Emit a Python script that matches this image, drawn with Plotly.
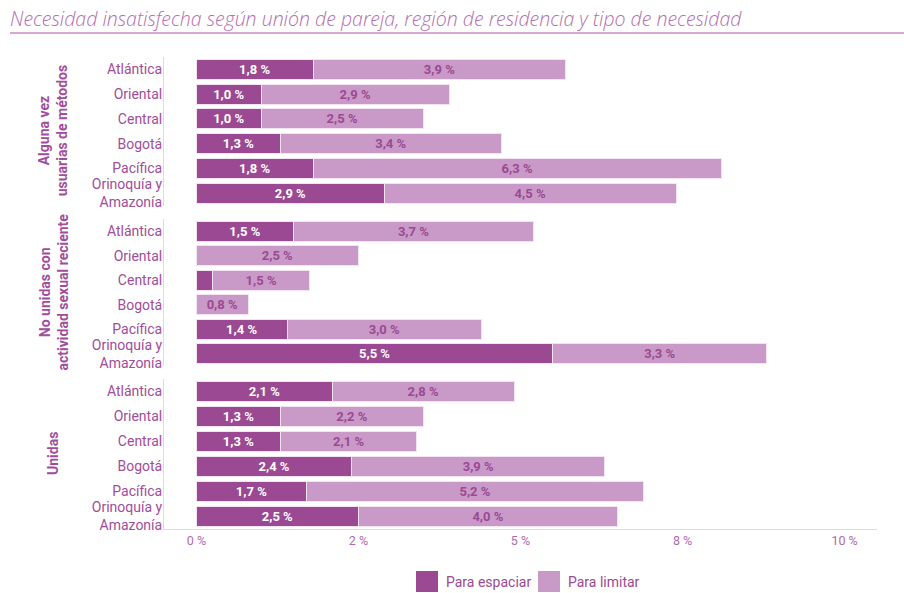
import plotly.graph_objects as go
from plotly.subplots import make_subplots

# Regions (top to bottom within each group)
regiones = ["Atlántica", "Oriental", "Central", "Bogotá", "Pacífica", "Orinoquía y<br>Amazonía"]

# Group titles
grupos = ["Alguna vez<br>usuarias de métodos",
          "No unidas con<br>actividad sexual reciente",
          "Unidas"]

# Unmet need (%) by type, one list per group
espaciar_alguna_vez = [1.8, 1.0, 1.0, 1.3, 1.8, 2.9]
limitar_alguna_vez = [3.9, 2.9, 2.5, 3.4, 6.3, 4.5]

espaciar_no_unidas = [1.5, 0.0, 0.25, 0.0, 1.4, 5.5]
limitar_no_unidas = [3.7, 2.5, 1.5, 0.8, 3.0, 3.3]

espaciar_unidas = [2.1, 1.3, 1.3, 2.4, 1.7, 2.5]
limitar_unidas = [2.8, 2.2, 2.1, 3.9, 5.2, 4.0]

# x axis ticks
tick_vals = [0, 2.5, 5, 7.5, 10]
tick_text = ["0 %", "2 %", "5 %", "8 %", "10 %"]

# Legend entries
leyenda = ["Para espaciar", "Para limitar"]

DARK = "#9B4993"
LIGHT = "#C99AC7"
TEXT = "#A24C9C"
LINE = "#EBD3EA"
FONT = "Roboto"


def etiqueta(v):
    return f"{v:.1f} %".replace(".", ",") if v >= 0.5 else ""


series = [
    (espaciar_alguna_vez, limitar_alguna_vez),
    (espaciar_no_unidas, limitar_no_unidas),
    (espaciar_unidas, limitar_unidas),
]

fig = make_subplots(rows=3, cols=1, shared_xaxes=True, vertical_spacing=0.0)

for i, (esp, lim) in enumerate(series, start=1):
    fig.add_trace(go.Bar(
        y=regiones, x=esp, orientation="h", name=leyenda[0],
        marker=dict(color=DARK, line=dict(color="#F3E4F2", width=1)),
        text=[etiqueta(v) for v in esp], textposition="inside",
        insidetextanchor="middle", constraintext="none",
        textfont=dict(family=FONT, size=13, color="white", weight="bold"),
        showlegend=False, hoverinfo="skip",
    ), row=i, col=1)
    fig.add_trace(go.Bar(
        y=regiones, x=lim, orientation="h", name=leyenda[1],
        marker=dict(color=LIGHT, line=dict(color="#F3E4F2", width=1)),
        text=[etiqueta(v) for v in lim], textposition="inside",
        insidetextanchor="middle", constraintext="none",
        textfont=dict(family=FONT, size=13, color=DARK, weight="bold"),
        showlegend=False, hoverinfo="skip",
    ), row=i, col=1)

# Plot area: 164..877 px horizontally, 55..529 px vertically
W = 713.0
H = 474.0
TOP = 55
BOTTOM = 529


def dom(y_top, y_bottom):
    return [(BOTTOM - y_bottom) / H, (BOTTOM - y_top) / H]


domains = [dom(57, 205.5), dom(219, 366), dom(379, 529)]

layout_axes = {}
for i, d in enumerate(domains, start=1):
    yname = "yaxis" if i == 1 else f"yaxis{i}"
    xname = "xaxis" if i == 1 else f"xaxis{i}"
    layout_axes[yname] = dict(
        domain=d, autorange="reversed", showline=True, linecolor=LINE,
        linewidth=1, showgrid=False, zeroline=False, ticks="",
        tickfont=dict(family=FONT, size=14, color=TEXT), ticklabelstandoff=-2,
    )
    layout_axes[xname] = dict(
        range=[-0.5, 10.5], showgrid=False, zeroline=False,
        tickvals=tick_vals, ticktext=tick_text,
        showticklabels=(i == 3), showline=(i == 3), linecolor=LINE,
        linewidth=1, ticks="",
        tickfont=dict(family=FONT, size=12.5, color="#B06AAB"),
    )

fig.update_layout(**layout_axes)

# Rotated group titles to the left of the region labels
centros = [(d[0] + d[1]) / 2 for d in domains]
for nombre, yc in zip(grupos, centros):
    fig.add_annotation(
        text=f"<b>{nombre}</b>", xref="paper", yref="paper",
        x=(53 - 164) / W, y=yc, textangle=-90, showarrow=False,
        xanchor="center", yanchor="middle",
        font=dict(family=FONT, size=14, color=TEXT),
    )

# Title rule
fig.add_shape(type="line", xref="paper", yref="paper",
              x0=(10 - 164) / W, x1=(904 - 164) / W,
              y0=(BOTTOM - 33) / H, y1=(BOTTOM - 33) / H,
              line=dict(color="#D9A8D6", width=2))

# Legend: colour squares with their labels
for color, nombre, xs in [(DARK, leyenda[0], 416), (LIGHT, leyenda[1], 538)]:
    fig.add_shape(type="rect", xref="paper", yref="paper",
                  x0=(xs - 164) / W, x1=(xs + 22 - 164) / W,
                  y0=(BOTTOM - 592) / H, y1=(BOTTOM - 571) / H,
                  line=dict(width=0), fillcolor=color)
    fig.add_annotation(
        text=nombre, xref="paper", yref="paper",
        x=(xs + 28 - 164) / W, y=(BOTTOM - 582) / H, showarrow=False,
        xanchor="left", yanchor="middle",
        font=dict(family=FONT, size=14, color=DARK),
    )

fig.update_layout(
    width=904, height=593,
    margin=dict(l=164, r=27, t=TOP, b=593 - BOTTOM),
    barmode="stack", bargap=0.2,
    separators=",.",
    showlegend=False,
    paper_bgcolor="white", plot_bgcolor="white",
    title=dict(
        text="Necesidad insatisfecha según unión de pareja, región de residencia y tipo de necesidad",
        x=10 / 904, xanchor="left", y=1 - 19 / 593, yanchor="middle",
        font=dict(family="Open Sans", size=19.5, color="#B36EAF", style="italic", weight=300),
    ),
)

fig.write_html("out.html")
